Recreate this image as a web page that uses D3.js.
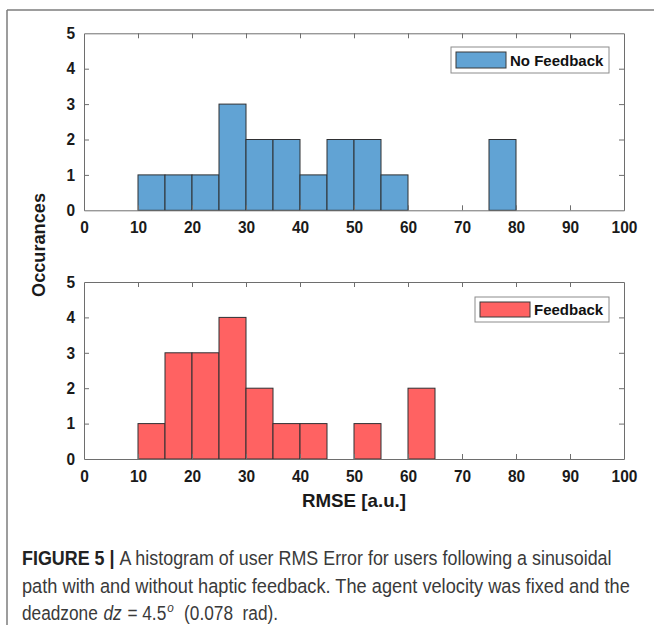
<!DOCTYPE html>
<html>
<head>
<meta charset="utf-8">
<script src="https://cdn.jsdelivr.net/npm/d3@7"></script>
<style>
  html, body { margin: 0; padding: 0; background: #fff; }
  svg { display: block; }
</style>
</head>
<body>
<svg id="chart" width="654" height="625"></svg>
<script>
// ---- Data ----
const binStarts = [0, 5, 10, 15, 20, 25, 30, 35, 40, 45, 50, 55, 60, 65, 70, 75, 80, 85, 90, 95];
const binWidth = 5;
const noFeedbackCounts = [0, 0, 1, 1, 1, 3, 2, 2, 1, 2, 2, 1, 0, 0, 0, 2, 0, 0, 0, 0];
const feedbackCounts   = [0, 0, 1, 3, 3, 4, 2, 1, 1, 0, 1, 0, 2, 0, 0, 0, 0, 0, 0, 0];
const xTicks = [0, 10, 20, 30, 40, 50, 60, 70, 80, 90, 100];
const yTicks = [0, 1, 2, 3, 4, 5];
const seriesNames = ["No Feedback", "Feedback"];
const seriesColors = ["#61a3d4", "#ff6262"];

const svg = d3.select("#chart");

// Figure frame (top and left lines)
svg.append("line").attr("x1", 7).attr("y1", 10).attr("x2", 654).attr("y2", 10)
  .attr("stroke", "#7d7d7d").attr("stroke-width", 1.5);
svg.append("line").attr("x1", 7).attr("y1", 10).attr("x2", 7).attr("y2", 625)
  .attr("stroke", "#7d7d7d").attr("stroke-width", 1.5);

const x = d3.scaleLinear().domain([0, 100]).range([84, 624]);
const panels = [
  { counts: noFeedbackCounts, top: 33.3, bottom: 210.3, name: seriesNames[0], color: seriesColors[0],
    legend: { x: 451, y: 47, w: 158, h: 26 } },
  { counts: feedbackCounts, top: 282, bottom: 459, name: seriesNames[1], color: seriesColors[1],
    legend: { x: 475, y: 297, w: 134, h: 25 } }
];

const axisColor = "#6e6e6e";
const tickFont = "bold 16.5px 'Liberation Sans', Arial, Helvetica, sans-serif";

panels.forEach(p => {
  const y = d3.scaleLinear().domain([0, 5]).range([p.bottom, p.top]);
  const g = svg.append("g");

  // bars
  const data = binStarts.map((s, i) => ({ s, c: p.counts[i] })).filter(d => d.c > 0);
  g.selectAll("rect.bar").data(data).enter().append("rect")
    .attr("class", "bar")
    .attr("x", d => x(d.s))
    .attr("y", d => y(d.c))
    .attr("width", d => x(d.s + binWidth) - x(d.s))
    .attr("height", d => y(0) - y(d.c))
    .attr("fill", p.color)
    .attr("stroke", "#2f3033")
    .attr("stroke-width", 1);

  // axes: inward ticks on all four sides
  const tickLen = 5;
  const bottomAx = g.append("g").attr("transform", `translate(0,${p.bottom})`)
    .call(d3.axisBottom(x).tickValues(xTicks).tickSizeInner(-tickLen).tickSizeOuter(0).tickPadding(11));
  const topAx = g.append("g").attr("transform", `translate(0,${p.top})`)
    .call(d3.axisTop(x).tickValues(xTicks).tickSizeInner(-tickLen).tickSizeOuter(0).tickFormat(""));
  const leftAx = g.append("g").attr("transform", `translate(${x(0)},0)`)
    .call(d3.axisLeft(y).tickValues(yTicks).tickSizeInner(-tickLen).tickSizeOuter(0).tickPadding(9).tickFormat(d3.format("d")));
  const rightAx = g.append("g").attr("transform", `translate(${x(100)},0)`)
    .call(d3.axisRight(y).tickValues(yTicks).tickSizeInner(-tickLen).tickSizeOuter(0).tickFormat(""));

  [bottomAx, topAx, leftAx, rightAx].forEach(a => {
    a.select(".domain").attr("stroke", axisColor).attr("stroke-width", 1);
    a.selectAll(".tick line").attr("stroke", axisColor);
    a.selectAll("text").style("font", tickFont).attr("fill", "#1a1a1a")
      .attr("textLength", function() { return 8.6 * this.textContent.length; })
      .attr("lengthAdjust", "spacingAndGlyphs");
  });
  // hide tick marks at the box corners
  [bottomAx, topAx].forEach(a => a.selectAll(".tick").filter(d => d === 0 || d === 100).select("line").remove());
  [leftAx, rightAx].forEach(a => a.selectAll(".tick").filter(d => d === 0 || d === 5).select("line").remove());

  // legend
  const L = p.legend;
  const lg = svg.append("g");
  lg.append("rect").attr("x", L.x).attr("y", L.y).attr("width", L.w).attr("height", L.h)
    .attr("fill", "#fff").attr("stroke", "#8c8c8c").attr("stroke-width", 1);
  lg.append("rect").attr("x", L.x + 5).attr("y", L.y + 5).attr("width", 50).attr("height", L.h - 10)
    .attr("fill", p.color).attr("stroke", "#3a3a3a").attr("stroke-width", 1);
  lg.append("text").attr("x", L.x + 59).attr("y", L.y + L.h / 2 + 5.5)
    .style("font", "bold 15px 'Liberation Sans', Arial, Helvetica, sans-serif")
    .attr("fill", "#111").text(p.name);
});

// axis labels
svg.append("text").attr("x", 354).attr("y", 507).attr("text-anchor", "middle")
  .style("font", "bold 18.5px 'Liberation Sans', Arial, Helvetica, sans-serif").attr("fill", "#1a1a1a")
  .attr("textLength", 104).attr("lengthAdjust", "spacingAndGlyphs")
  .text("RMSE [a.u.]");
svg.append("text").attr("transform", "translate(45,245) rotate(-90)").attr("text-anchor", "middle")
  .style("font", "bold 18.5px 'Liberation Sans', Arial, Helvetica, sans-serif").attr("fill", "#1a1a1a")
  .attr("textLength", 104).attr("lengthAdjust", "spacingAndGlyphs")
  .text("Occurances");

// caption — condensed look via horizontal scale fitted to the reference line widths
const capFont = "'Liberation Sans Narrow', 'Liberation Sans', Arial, sans-serif";
const capSize = 19.5;
function capLine(yPos) {
  const g = svg.append("g").attr("transform", `translate(22,${yPos})`);
  return g.append("g").style("font-family", capFont).style("font-size", capSize + "px").attr("fill", "#3a3a3a");
}
const c1 = capLine(565);
const t1 = c1.append("text").attr("x", 0).attr("y", 0);
t1.append("tspan").attr("font-weight", "bold").attr("fill", "#222").text("FIGURE 5 | ");
t1.append("tspan").text("A histogram of user RMS Error for users following a sinusoidal");
c1.attr("transform", `scale(${590 / t1.node().getComputedTextLength()},1)`);

const c2 = capLine(593);
const t2 = c2.append("text").attr("x", 0).attr("y", 0)
  .text("path with and without haptic feedback. The agent velocity was fixed and the");
c2.attr("transform", `scale(${608 / t2.node().getComputedTextLength()},1)`);

// line 3: pieces placed one after another
const c3 = capLine(620);
const pieces = [
  { t: "deadzone\u00a0", style: "normal", size: capSize, dy: 0 },
  { t: "dz", style: "italic", size: capSize, dy: 0 },
  { t: "\u00a0=\u00a04.5", style: "normal", size: capSize, dy: 0 },
  { t: "o", style: "italic", size: capSize * 0.68, dy: -8 },
  { t: "\u00a0\u00a0(0.078\u00a0\u00a0rad).", style: "normal", size: capSize, dy: 0 }
];
let cx = 0;
pieces.forEach(pc => {
  const t = c3.append("text").attr("x", cx).attr("y", pc.dy)
    .style("font-size", pc.size + "px").style("font-style", pc.style).text(pc.t);
  cx += t.node().getComputedTextLength() + 1;
});
c3.attr("transform", `scale(${257 / cx},1)`);
</script>
</body>
</html>
